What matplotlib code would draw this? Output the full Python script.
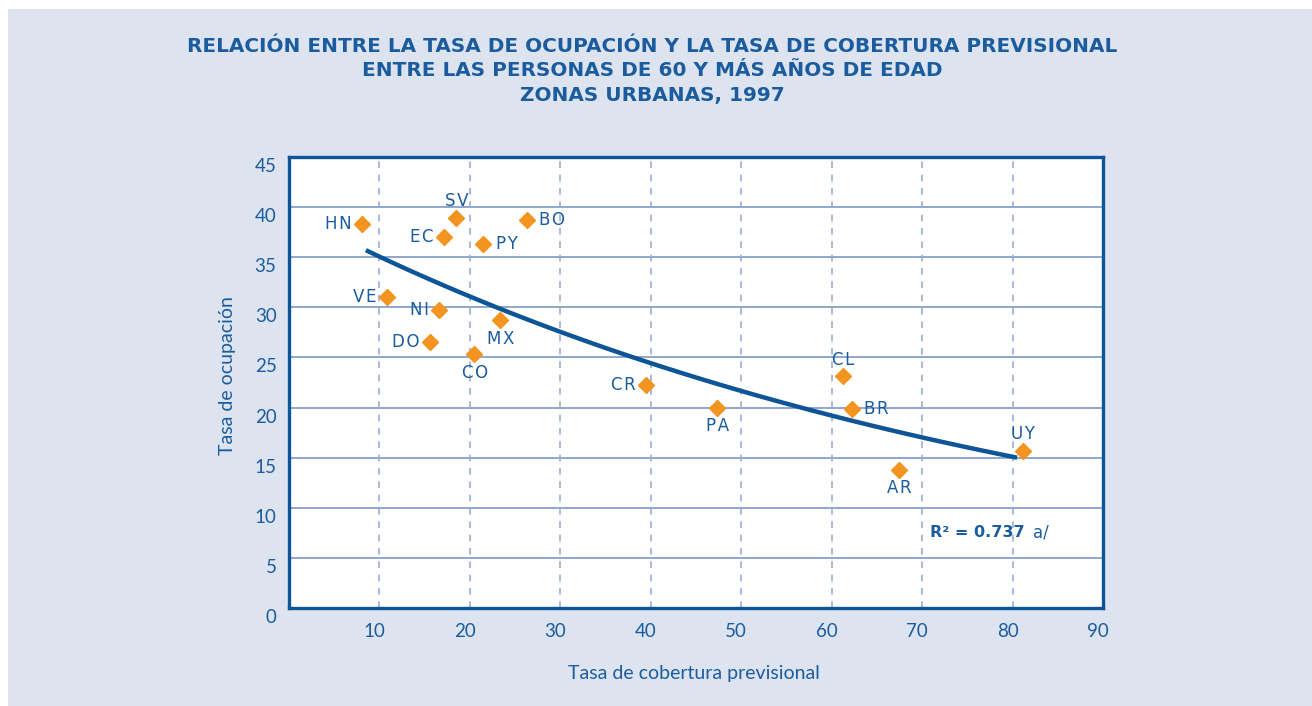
import numpy as np
import matplotlib
matplotlib.use("Agg")
from matplotlib import pyplot as plt
from matplotlib import transforms as mtrans
from matplotlib.patches import Rectangle

# Data
paises = ["HN", "SV", "EC", "PY", "BO", "VE", "NI", "MX", "DO", "CO",
          "CR", "PA", "CL", "BR", "AR", "UY"]
cobertura = [8.1, 18.5, 17.1, 21.5, 26.3, 10.8, 16.6, 23.3, 15.6, 20.5,
             39.5, 47.3, 61.3, 62.2, 67.4, 81.1]
ocupacion = [38.3, 38.9, 37.0, 36.3, 38.7, 31.0, 29.7, 28.7, 26.5, 25.3,
             22.3, 20.0, 23.1, 19.9, 13.8, 15.7]
# where each country code sits relative to its marker
lado = ["left", "above", "left", "right", "right", "left", "left", "below",
        "left", "below", "left", "below", "above", "right", "below", "above"]

# exponential trend, end points
tend_x = [8.5, 80.5]
tend_y = [35.7, 15.0]

xticks = [10, 20, 30, 40, 50, 60, 70, 80, 90]
yticks = [0, 5, 10, 15, 20, 25, 30, 35, 40, 45]

azul = "#1b5c9e"
marco = "#0d5596"
naranja = "#f39420"
fondo = "#dde4f0"

plt.rcParams["font.family"] = ["Lato", "DejaVu Sans"]

fig = plt.figure(figsize=(13.12, 7.06), dpi=100, facecolor="white")
fig.patches.append(Rectangle((8 / 1312, 0), 1, 1 - 9 / 706, transform=fig.transFigure,
                             facecolor=fondo, edgecolor="none", zorder=-10))

ax = fig.add_axes([289 / 1312, 98 / 706, 814 / 1312, 451 / 706])
ax.set_facecolor("white")
ax.set_xlim(0, 90)
ax.set_ylim(0, 45)

for y in yticks[1:-1]:
    ax.axhline(y, color="#8ea6d0", lw=1.4, zorder=1)
for x in xticks[:-1]:
    ax.axvline(x, color="#98add6", lw=1.2, ls=(0, (4, 4)), zorder=1)

for s in ax.spines.values():
    s.set_color(marco)
    s.set_linewidth(2.4)
    s.set_zorder(5)

# trend line
tx = np.linspace(tend_x[0], tend_x[1], 100)
ty = np.geomspace(tend_y[0], tend_y[1], 100)
ax.plot(tx, ty, color=marco, lw=3.2, solid_capstyle="butt", zorder=3)

ax.plot(cobertura, ocupacion, ls="none", marker="D", ms=8.5, color=naranja,
        mec=naranja, zorder=4)

offs = {"left": (-7.5, 0, "right"), "right": (9, 0, "left"),
        "above": (0, 12.2, "center"), "below": (0.7, -13.2, "center")}
for p, cx, cy, l in zip(paises, cobertura, ocupacion, lado):
    dx, dy, ha = offs[l]
    ax.annotate("\u200a".join(p), (cx, cy), xytext=(dx, dy), textcoords="offset points",
                ha=ha, va="center", fontsize=12, color=azul, zorder=6,
                fontfamily=["DejaVu Sans"])

ax.text(70.9, 7.5, "R² = 0.737", fontsize=11.5, fontweight="bold",
        color=azul, va="center", ha="left", fontfamily=["DejaVu Sans"])
ax.text(82.3, 7.5, "a/", fontsize=12, color=azul, va="center", ha="left",
        fontfamily=["DejaVu Sans"])

ax.set_xticks(xticks)
ax.set_yticks(yticks)
ax.tick_params(length=0, labelsize=13.5, labelcolor=azul)
ax.tick_params(axis="x", pad=11)
ax.tick_params(axis="y", pad=9)
for lab in ax.get_xticklabels():
    lab.set_transform(lab.get_transform() + mtrans.ScaledTranslation(-5 / 100, 0, fig.dpi_scale_trans))
for lab in ax.get_yticklabels():
    lab.set_transform(lab.get_transform() + mtrans.ScaledTranslation(0, -8 / 100, fig.dpi_scale_trans))

fig.text(694 / 1312, 1 - 674 / 706, "Tasa de cobertura previsional", ha="center",
         va="center", fontsize=14, color=azul)
fig.text(228 / 1312, 1 - 376 / 706, "Tasa de ocupación", ha="center", va="center",
         rotation=90, fontsize=14, color=azul)

titulo = ("RELACIÓN ENTRE LA TASA DE OCUPACIÓN Y LA TASA DE COBERTURA PREVISIONAL\n"
          "ENTRE LAS PERSONAS DE 60 Y MÁS AÑOS DE EDAD\n"
          "ZONAS URBANAS, 1997")
fig.text(652 / 1312, 1 - 71 / 706, titulo, ha="center", va="center", fontsize=14.4,
         fontweight="bold", color=azul, linespacing=1.38,
         fontfamily=["DejaVu Sans"])

fig.savefig("out.png", dpi=100, facecolor=fig.get_facecolor())
